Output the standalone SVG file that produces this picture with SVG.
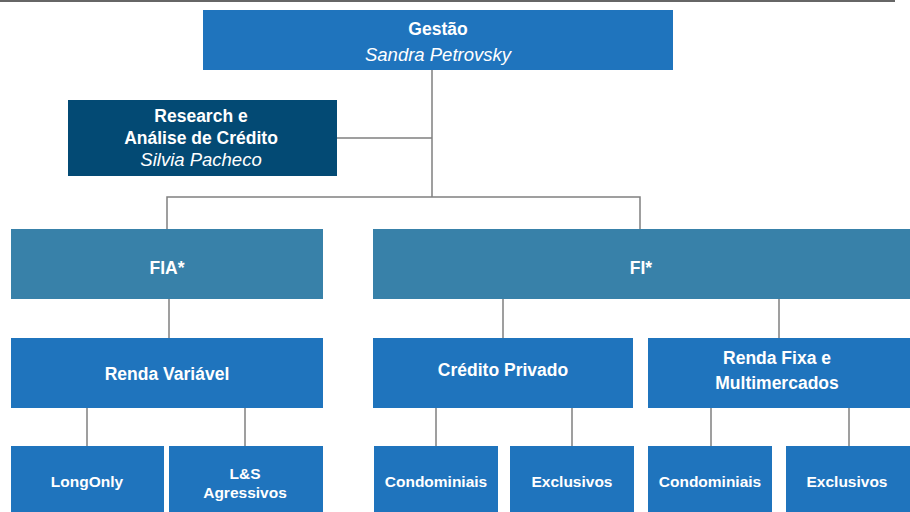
<svg xmlns="http://www.w3.org/2000/svg" width="910" height="512" viewBox="0 0 910 512">
<style>
.blue{fill:#1f74bd}
.dark{fill:#034a74}
.teal{fill:#3881a9}
text{font-family:"Liberation Sans",Arial,sans-serif;fill:#fff;text-anchor:middle;font-weight:bold}
.l1{font-size:17.5px}
.l2{font-size:15.5px}
.it{font-style:italic;font-weight:normal;font-size:18.5px}
.c{stroke:#808080;stroke-width:1.5;fill:none}
</style>
<rect width="910" height="512" fill="#fff"/>
<line x1="0" y1="1" x2="895" y2="1" stroke="#666" stroke-width="2"/>
<g id="connectors" class="c">
<path d="M432 70V197M337 138H432M167 229V197H640V229"/>
<path d="M169 299V338M503 299V338M779 299V338"/>
<path d="M87 408V446M245 408V446M436 408V446M572 408V446M711 408V446M849 408V446"/>
</g>
<g id="gestao"><rect class="blue" x="203" y="10" width="470" height="60"/>
<text class="l1" x="438" y="35">Gestão</text><text class="l1 it" x="438" y="61">Sandra Petrovsky</text></g>
<g id="research"><rect class="dark" x="68" y="100" width="269" height="76"/>
<text class="l1" x="201" y="122">Research e</text><text class="l1" x="201" y="144">Análise de Crédito</text><text class="l1 it" x="201" y="166">Silvia Pacheco</text></g>
<g id="fia"><rect class="teal" x="11" y="229" width="312" height="70"/><text class="l1" x="167" y="274">FIA*</text></g>
<g id="fi"><rect class="teal" x="373" y="229" width="537" height="70"/><text class="l1" x="641" y="274">FI*</text></g>
<g id="renda-variavel"><rect class="blue" x="11" y="338" width="312" height="70"/><text class="l1" x="167" y="380">Renda Variável</text></g>
<g id="credito-privado"><rect class="blue" x="373" y="338" width="260" height="70"/><text class="l1" x="503" y="376">Crédito Privado</text></g>
<g id="renda-fixa"><rect class="blue" x="648" y="338" width="262" height="70"/><text class="l1" x="777" y="364">Renda Fixa e</text><text class="l1" x="777" y="389">Multimercados</text></g>
<g id="longonly"><rect class="blue" x="11" y="446" width="153" height="66"/><text class="l2" x="87" y="487">LongOnly</text></g>
<g id="ls"><rect class="blue" x="169" y="446" width="154" height="66"/><text class="l2" x="245" y="479">L&amp;S</text><text class="l2" x="245" y="498">Agressivos</text></g>
<g id="cond1"><rect class="blue" x="374" y="446" width="124" height="66"/><text class="l2" x="436" y="487">Condominiais</text></g>
<g id="excl1"><rect class="blue" x="510" y="446" width="124" height="66"/><text class="l2" x="572" y="487">Exclusivos</text></g>
<g id="cond2"><rect class="blue" x="648" y="446" width="124" height="66"/><text class="l2" x="710" y="487">Condominiais</text></g>
<g id="excl2"><rect class="blue" x="786" y="446" width="124" height="66"/><text class="l2" x="847" y="487">Exclusivos</text></g>
</svg>
